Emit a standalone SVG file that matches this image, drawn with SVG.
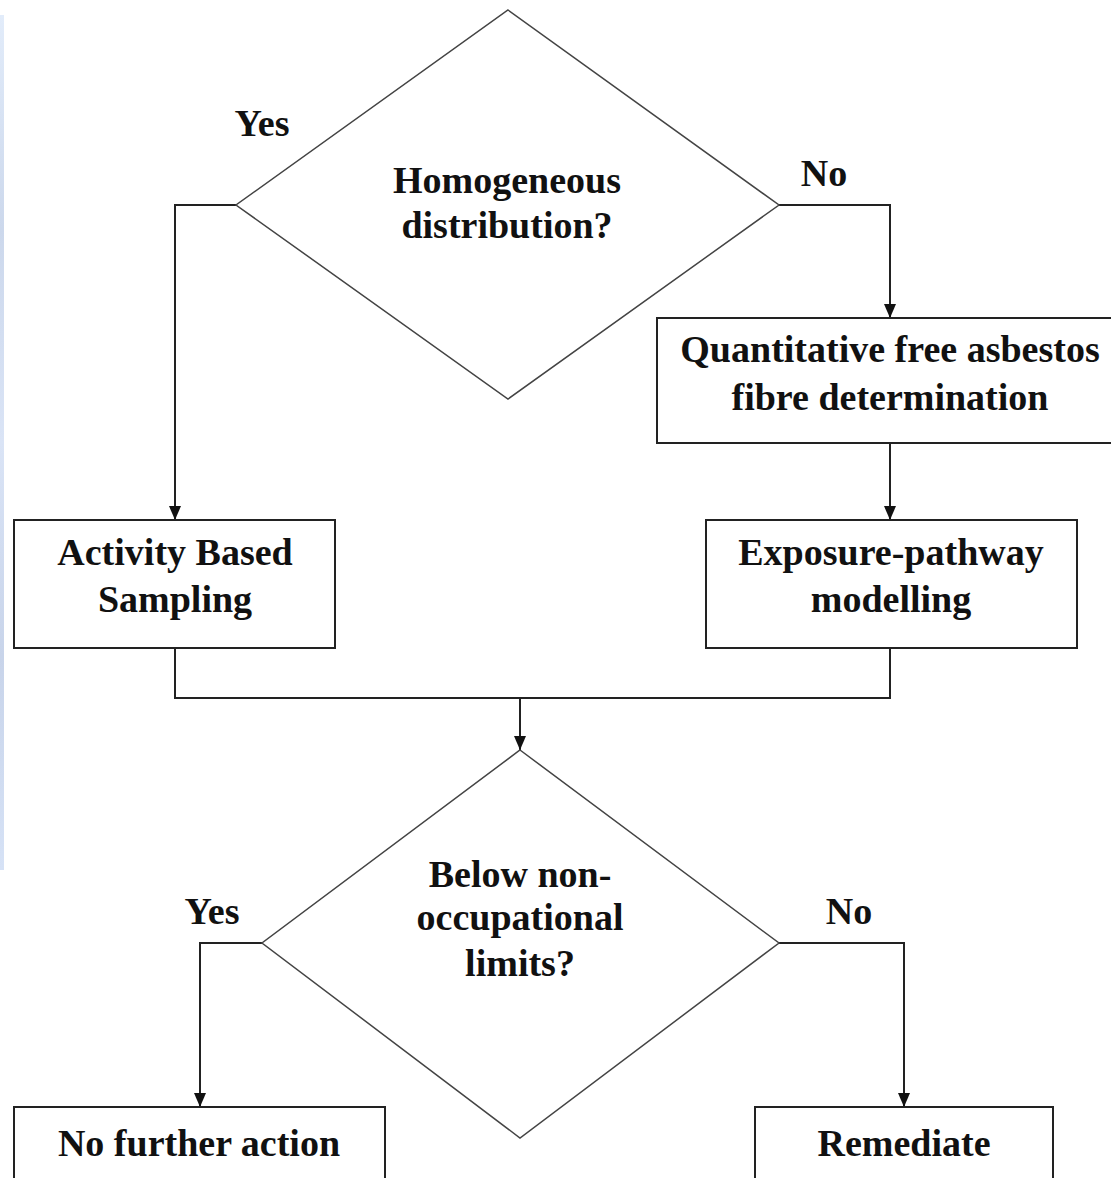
<svg xmlns="http://www.w3.org/2000/svg" width="1111" height="1178" viewBox="0 0 1111 1178">
<defs>
<linearGradient id="strip" x1="0" y1="0" x2="0" y2="1">
<stop offset="0" stop-color="#e2ecfa"/>
<stop offset="0.25" stop-color="#ccd8ec"/>
<stop offset="0.5" stop-color="#dae4f6"/>
<stop offset="0.75" stop-color="#c8d4ea"/>
<stop offset="1" stop-color="#d6e2f6"/>
</linearGradient>
<marker id="arr" viewBox="0 0 14 12" refX="14" refY="6" markerWidth="14" markerHeight="12" markerUnits="userSpaceOnUse" orient="auto">
<path d="M0,0 L14,6 L0,12 Z" fill="#111"/>
</marker>
</defs>
<style>
.t{font-family:"Liberation Serif","Times New Roman",serif;font-weight:bold;font-size:38px;fill:#111;text-anchor:middle}
.box{fill:#fff;stroke:#222;stroke-width:2}
.dia{fill:#fff;stroke:#444;stroke-width:1.5}
.c{fill:none;stroke:#222;stroke-width:2}
</style>
<rect width="1111" height="1178" fill="#fff"/>
<rect x="0" y="15" width="4" height="855" fill="url(#strip)"/>
<g id="connectors">
<polyline class="c" points="236,205 175,205 175,520" marker-end="url(#arr)"/>
<polyline class="c" points="779,205 890,205 890,318" marker-end="url(#arr)"/>
<line class="c" x1="890" y1="443" x2="890" y2="520" marker-end="url(#arr)"/>
<polyline class="c" points="175,648 175,698 890,698 890,648"/>
<line class="c" x1="520" y1="698" x2="520" y2="750" marker-end="url(#arr)"/>
<polyline class="c" points="262,943 200,943 200,1107" marker-end="url(#arr)"/>
<polyline class="c" points="779,943 904,943 904,1107" marker-end="url(#arr)"/>
<text class="t" x="262" y="136">Yes</text>
<text class="t" x="824" y="186">No</text>
<text class="t" x="212" y="924">Yes</text>
<text class="t" x="849" y="924">No</text>
</g>
<g id="homogeneous">
<polygon class="dia" points="508,10 779,205 508,399 236,205"/>
<text class="t" x="507" y="193">Homogeneous</text>
<text class="t" x="507" y="238">distribution?</text>
</g>
<g id="quantitative">
<rect class="box" x="657" y="318" width="460" height="125"/>
<text class="t" x="890" y="362">Quantitative free asbestos</text>
<text class="t" x="890" y="410">fibre determination</text>
</g>
<g id="activity">
<rect class="box" x="14" y="520" width="321" height="128"/>
<text class="t" x="175" y="565">Activity Based</text>
<text class="t" x="175" y="612">Sampling</text>
</g>
<g id="exposure">
<rect class="box" x="706" y="520" width="371" height="128"/>
<text class="t" x="891" y="565">Exposure-pathway</text>
<text class="t" x="891" y="612">modelling</text>
</g>
<g id="below">
<polygon class="dia" points="520,750 779,943 520,1138 262,943"/>
<text class="t" x="520" y="887">Below non-</text>
<text class="t" x="520" y="930">occupational</text>
<text class="t" x="520" y="976">limits?</text>
</g>
<g id="nofurther">
<rect class="box" x="14" y="1107" width="371" height="90"/>
<text class="t" x="199" y="1156">No further action</text>
</g>
<g id="remediate">
<rect class="box" x="755" y="1107" width="298" height="90"/>
<text class="t" x="904" y="1156">Remediate</text>
</g>
</svg>
